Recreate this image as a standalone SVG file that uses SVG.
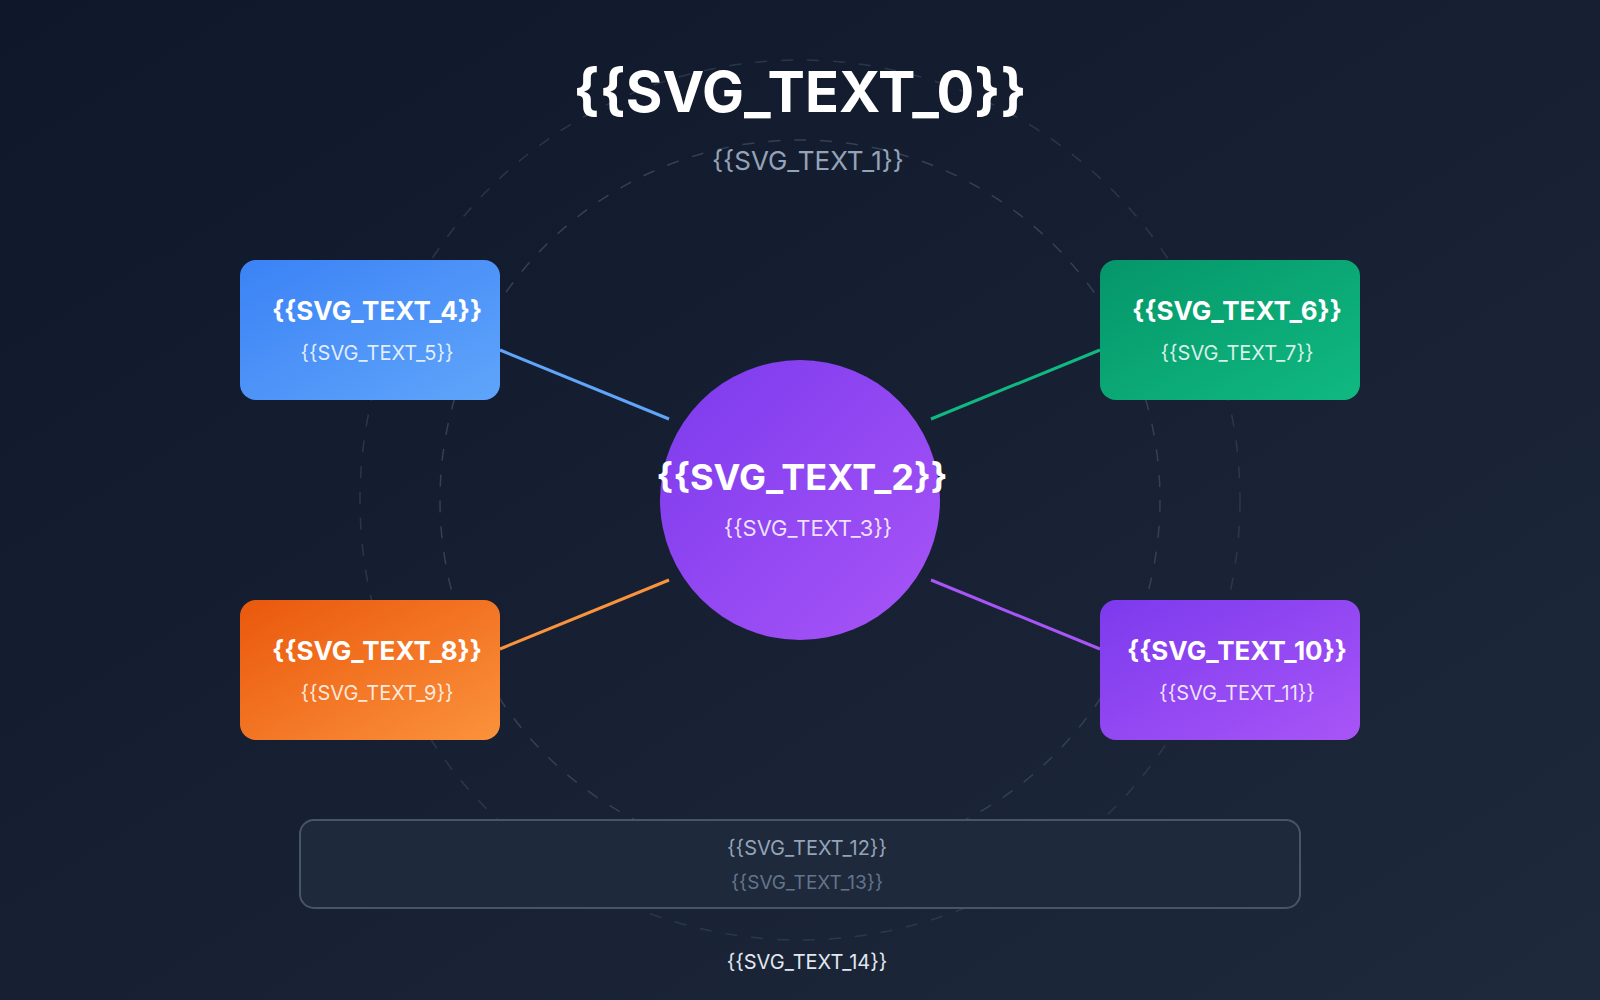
<svg xmlns="http://www.w3.org/2000/svg" width="1600" height="1000" viewBox="0 0 1600 1000">
<defs>
<linearGradient id="bg" x1="0" y1="0" x2="1" y2="1"><stop offset="0" stop-color="#0f172a"/><stop offset="1" stop-color="#1e293b"/></linearGradient>
<linearGradient id="gc" x1="0" y1="0" x2="1" y2="1"><stop offset="0" stop-color="#7c3aed"/><stop offset="1" stop-color="#a855f7"/></linearGradient>
<linearGradient id="gb" x1="0" y1="0" x2="1" y2="1"><stop offset="0" stop-color="#3b82f6"/><stop offset="1" stop-color="#60a5fa"/></linearGradient>
<linearGradient id="gg" x1="0" y1="0" x2="1" y2="1"><stop offset="0" stop-color="#059669"/><stop offset="1" stop-color="#10b981"/></linearGradient>
<linearGradient id="go" x1="0" y1="0" x2="1" y2="1"><stop offset="0" stop-color="#ea580c"/><stop offset="1" stop-color="#fb923c"/></linearGradient>
<linearGradient id="gp" x1="0" y1="0" x2="1" y2="1"><stop offset="0" stop-color="#7c3aed"/><stop offset="1" stop-color="#a855f7"/></linearGradient>
</defs>
<style>
text{font-family:Inter,"Liberation Sans",sans-serif;text-anchor:middle}
.t{font-weight:700;fill:#fff;font-size:26px}
.s{fill:#fff;fill-opacity:.85;font-size:20px}
.ring{fill:none;stroke:#334155;stroke-width:1.5;stroke-dasharray:12 14}
.c{stroke-width:3;fill:none}
</style>
<rect width="1600" height="1000" fill="url(#bg)"/>
<circle class="ring" cx="800" cy="500" r="440" opacity=".7"/>
<circle class="ring" cx="800" cy="500" r="360"/>
<text x="800" y="112" font-size="56" font-weight="700" fill="#fff">{{SVG_TEXT_0}}</text>
<text x="808" y="170" font-size="26" fill="#94a3b8">{{SVG_TEXT_1}}</text>
<g id="connectors">
<line class="c" x1="500" y1="350" x2="669" y2="419" stroke="#60a5fa"/>
<line class="c" x1="931" y1="419" x2="1100" y2="350" stroke="#10b981"/>
<line class="c" x1="500" y1="649" x2="669" y2="580" stroke="#fb923c"/>
<line class="c" x1="931" y1="580" x2="1100" y2="649" stroke="#a855f7"/>
</g>
<g id="center"><circle cx="800" cy="500" r="140" fill="url(#gc)"/>
<text x="802" y="490" font-size="36" font-weight="700" fill="#fff">{{SVG_TEXT_2}}</text>
<text x="808" y="536" font-size="22" fill="#fff" fill-opacity=".85">{{SVG_TEXT_3}}</text></g>
<g id="n1"><rect x="240" y="260" width="260" height="140" rx="16" fill="url(#gb)"/><text class="t" x="377" y="320">{{SVG_TEXT_4}}</text><text class="s" x="377" y="360">{{SVG_TEXT_5}}</text></g>
<g id="n2"><rect x="1100" y="260" width="260" height="140" rx="16" fill="url(#gg)"/><text class="t" x="1237" y="320">{{SVG_TEXT_6}}</text><text class="s" x="1237" y="360">{{SVG_TEXT_7}}</text></g>
<g id="n3"><rect x="240" y="600" width="260" height="140" rx="16" fill="url(#go)"/><text class="t" x="377" y="660">{{SVG_TEXT_8}}</text><text class="s" x="377" y="700">{{SVG_TEXT_9}}</text></g>
<g id="n4"><rect x="1100" y="600" width="260" height="140" rx="16" fill="url(#gp)"/><text class="t" x="1237" y="660">{{SVG_TEXT_10}}</text><text class="s" x="1237" y="700">{{SVG_TEXT_11}}</text></g>
<g id="legend"><rect x="300" y="820" width="1000" height="88" rx="14" fill="#1e293b" stroke="#475569" stroke-width="2"/>
<text x="807" y="855" font-size="20" fill="#94a3b8">{{SVG_TEXT_12}}</text>
<text x="807" y="889" font-size="19" fill="#64748b">{{SVG_TEXT_13}}</text></g>
<text x="807" y="969" font-size="20" fill="#e2e8f0">{{SVG_TEXT_14}}</text>
</svg>
